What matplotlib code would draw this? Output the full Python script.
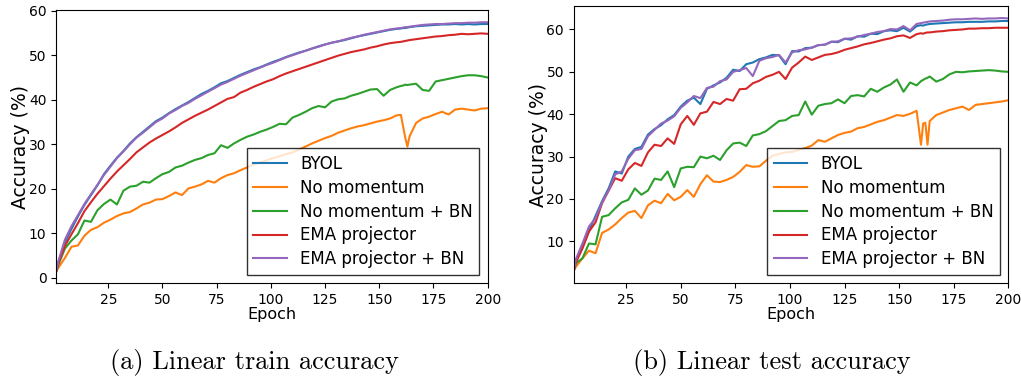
import matplotlib
matplotlib.use("Agg")
import matplotlib.pyplot as plt

epochs = [1, 2] + list(range(5, 159, 3)) + [160, 161, 162, 163, 164] + list(range(167, 201, 3))

labels = ["BYOL", "No momentum", "No momentum + BN", "EMA projector", "EMA projector + BN"]

# linear train accuracy (%)
byol_train = [1.5, 3.5, 8.0, 11.0, 13.8, 16.4, 18.6, 20.8, 23.3, 25.2,
              27.0, 28.5, 30.2, 31.6, 32.8, 34.0, 35.2, 36.0, 37.0, 37.9,
              38.7, 39.5, 40.4, 41.3, 42.0, 42.8, 43.7, 44.2, 44.9, 45.6,
              46.2, 46.8, 47.3, 47.9, 48.5, 49.0, 49.6, 50.1, 50.6, 51.0,
              51.5, 52.0, 52.4, 52.8, 53.1, 53.4, 53.8, 54.2, 54.5, 54.8,
              55.1, 55.4, 55.7, 55.9, 56.0, 56.1, 56.1, 56.2, 56.3, 56.5,
              56.6, 56.7, 56.8, 56.9, 56.9, 57.0, 56.9, 57.0, 56.9, 57.0,
              57.0]
nomom_train = [1.4, 2.3, 4.5, 7.0, 7.3, 9.5, 10.8, 11.4, 12.4, 13.1,
               13.9, 14.5, 14.8, 15.6, 16.5, 16.9, 17.6, 17.7, 18.4, 19.2,
               18.6, 20.1, 20.5, 21.0, 21.8, 21.4, 22.4, 23.1, 23.5, 24.2,
               24.8, 25.5, 25.9, 26.4, 26.9, 27.3, 27.8, 28.2, 28.8, 29.5,
               30.2, 30.8, 31.4, 31.9, 32.6, 33.1, 33.6, 34.0, 34.3, 34.7,
               35.1, 35.4, 35.8, 36.5, 36.6, 34.0, 31.5, 29.5, 31.8, 34.8,
               35.8, 36.2, 36.8, 37.3, 36.7, 37.8, 38.0, 37.8, 37.6, 38.0,
               38.1]
nomom_bn_train = [1.5, 3.0, 6.6, 8.4, 9.8, 12.9, 12.6, 15.2, 16.6, 17.6,
                  16.5, 19.6, 20.5, 20.7, 21.6, 21.4, 22.4, 23.3, 23.8, 24.8,
                  25.2, 25.9, 26.5, 26.9, 27.6, 28.0, 29.8, 29.2, 30.2, 31.0,
                  31.7, 32.2, 32.8, 33.3, 33.9, 34.6, 34.5, 36.0, 36.6, 37.3,
                  38.1, 38.6, 38.3, 39.6, 40.1, 40.3, 40.9, 41.3, 41.8, 42.3,
                  42.4, 40.9, 42.2, 42.8, 43.1, 43.2, 43.4, 43.3, 43.4, 43.6,
                  42.2, 42.0, 44.1, 44.4, 44.7, 45.0, 45.3, 45.5, 45.5, 45.3,
                  45.0]
ema_train = [1.5, 3.3, 7.2, 9.8, 12.3, 15.0, 17.0, 18.9, 20.6, 22.3,
             23.9, 25.3, 26.7, 28.2, 29.3, 30.4, 31.3, 32.1, 32.9, 33.8,
             34.8, 35.6, 36.4, 37.1, 37.8, 38.6, 39.4, 40.2, 40.6, 41.6,
             42.2, 42.9, 43.5, 44.1, 44.6, 45.3, 45.9, 46.4, 46.9, 47.4,
             47.9, 48.4, 48.9, 49.4, 49.9, 50.3, 50.7, 51.0, 51.3, 51.7,
             52.0, 52.4, 52.7, 52.9, 53.0, 53.1, 53.2, 53.3, 53.4, 53.6,
             53.8, 54.0, 54.2, 54.3, 54.5, 54.6, 54.8, 54.7, 54.8, 54.9,
             54.8]
ema_bn_train = [1.5, 3.8, 8.6, 11.6, 14.1, 16.6, 18.8, 20.9, 23.1, 25.0,
                26.9, 28.4, 30.0, 31.5, 32.6, 33.8, 35.0, 35.8, 36.9, 37.7,
                38.6, 39.3, 40.2, 41.0, 41.8, 42.6, 43.4, 44.0, 44.7, 45.4,
                46.0, 46.6, 47.2, 47.8, 48.3, 48.9, 49.5, 50.0, 50.5, 51.0,
                51.5, 51.9, 52.4, 52.8, 53.1, 53.5, 53.9, 54.2, 54.6, 54.9,
                55.2, 55.5, 55.8, 56.0, 56.1, 56.2, 56.3, 56.3, 56.4, 56.6,
                56.8, 56.9, 57.0, 57.0, 57.1, 57.2, 57.2, 57.3, 57.3, 57.4,
                57.4]

# linear test accuracy (%)
byol_test = [3.0, 5.5, 8.8, 12.5, 16.0, 19.5, 22.5, 26.5, 26.0, 30.0,
             31.8, 32.3, 35.2, 36.5, 37.4, 38.8, 39.8, 41.8, 43.2, 43.9,
             42.4, 46.0, 46.8, 47.5, 48.6, 50.5, 50.2, 51.8, 52.2, 53.0,
             53.4, 54.0, 53.9, 51.8, 54.9, 54.8, 55.6, 55.7, 56.3, 56.4,
             57.1, 57.0, 57.8, 57.6, 58.4, 58.3, 59.0, 58.9, 59.6, 59.8,
             59.6, 60.4, 59.5, 60.8, 61.0, 60.9, 61.1, 61.2, 61.3, 61.4,
             61.5, 61.6, 61.7, 61.7, 61.8, 61.8, 61.8, 61.9, 61.9, 62.0,
             62.0]
nomom_test = [3.0, 4.0, 6.0, 7.8, 7.2, 12.0, 12.8, 14.0, 15.5, 16.8,
              17.2, 15.5, 18.5, 19.6, 19.0, 21.2, 19.7, 20.5, 22.1, 20.5,
              23.5, 25.6, 24.1, 24.0, 24.5, 25.2, 26.4, 28.0, 27.6, 27.7,
              29.0, 30.2, 30.6, 31.0, 31.1, 31.6, 32.0, 32.6, 33.9, 33.5,
              34.3, 35.1, 35.6, 35.9, 36.7, 37.0, 37.6, 38.2, 38.6, 39.2,
              39.8, 39.6, 40.1, 40.8, 32.8, 37.8, 38.0, 32.8, 38.4, 39.8,
              40.4, 41.0, 41.4, 41.8, 41.0, 42.2, 42.4, 42.6, 42.8, 43.0,
              43.3]
nomom_bn_test = [3.0, 4.8, 6.0, 9.5, 9.3, 15.8, 16.2, 17.8, 19.2, 19.8,
                 22.5, 21.0, 22.0, 24.8, 24.5, 26.5, 22.8, 27.2, 27.6, 27.5,
                 30.0, 29.6, 30.2, 29.2, 31.5, 33.1, 33.3, 32.5, 35.0, 35.3,
                 36.0, 37.2, 38.4, 38.6, 39.6, 39.8, 43.0, 39.9, 42.0, 42.4,
                 42.6, 43.5, 42.6, 44.3, 44.5, 44.2, 46.0, 45.3, 46.3, 47.0,
                 48.2, 45.3, 47.5, 46.8, 47.8, 48.1, 48.4, 48.6, 48.9, 47.7,
                 48.3, 49.4, 50.0, 49.9, 50.1, 50.2, 50.3, 50.4, 50.3, 50.1,
                 50.0]
ema_test = [3.0, 5.0, 8.3, 12.3, 14.5, 19.0, 22.0, 24.9, 24.3, 27.0,
            28.5, 27.8, 31.0, 32.8, 32.5, 34.3, 33.0, 37.6, 39.6, 37.5,
            40.2, 40.6, 42.9, 42.4, 43.6, 43.2, 45.9, 46.0, 47.3, 47.9,
            48.8, 49.3, 50.0, 48.3, 51.0, 52.2, 53.6, 52.8, 53.4, 54.0,
            54.2, 54.6, 55.2, 55.6, 56.0, 56.5, 56.8, 57.2, 57.6, 57.9,
            58.4, 58.6, 58.0, 58.9, 59.1, 59.0, 59.2, 59.3, 59.3, 59.5,
            59.6, 59.8, 59.9, 60.0, 60.2, 60.2, 60.3, 60.3, 60.4, 60.4,
            60.4]
ema_bn_test = [3.0, 5.8, 9.5, 13.5, 15.5, 19.2, 22.0, 25.8, 26.5, 29.5,
               31.5, 31.8, 34.8, 36.3, 37.8, 38.5, 39.5, 41.5, 42.8, 44.3,
               43.8, 46.2, 46.5, 47.8, 48.2, 50.0, 50.4, 50.9, 49.0, 52.6,
               53.2, 53.5, 54.0, 52.2, 54.6, 55.1, 55.3, 55.7, 56.3, 56.4,
               57.1, 57.2, 57.8, 57.9, 58.3, 58.7, 59.0, 59.4, 59.6, 60.1,
               60.0, 60.8, 59.8, 61.3, 61.5, 61.6, 61.7, 61.8, 61.9, 62.0,
               62.1, 62.3, 62.4, 62.4, 62.5, 62.6, 62.5, 62.6, 62.6, 62.7,
               62.6]

train_runs = [byol_train, nomom_train, nomom_bn_train, ema_train, ema_bn_train]
test_runs = [byol_test, nomom_test, nomom_bn_test, ema_test, ema_bn_test]

fig = plt.figure(figsize=(10.21, 3.77), dpi=100)
ax1 = fig.add_axes([0.0551, 0.2485, 0.4225, 0.725])
ax2 = fig.add_axes([0.5619, 0.2485, 0.4257, 0.7363])

for ax, runs, ylim in [(ax1, train_runs, (-1.2, 60.15)), (ax2, test_runs, (0.1, 65.6))]:
    for vals, lab in zip(runs, labels):
        ax.plot(epochs, vals, label=lab, linewidth=1.5)
    ax.set_xlim(1, 200)
    ax.set_ylim(*ylim)
    ax.set_xticks([25, 50, 75, 100, 125, 150, 175, 200])
    ax.tick_params(labelsize=10)
    ax.set_xlabel("Epoch", fontsize=11.5, labelpad=0)
    ax.set_ylabel("Accuracy (%)", fontsize=13.5, labelpad=-1)
    ax.legend(loc="lower right", fontsize=12, fancybox=False, labelspacing=0.35,
              edgecolor="k", framealpha=0.8, borderaxespad=0.5)

fig.text(0.249, 0.02, "(a) Linear train accuracy", family="cmr10", fontsize=19, ha="center")
fig.text(0.756, 0.02, "(b) Linear test accuracy", family="cmr10", fontsize=19, ha="center")

fig.savefig("out.png", dpi=100)
